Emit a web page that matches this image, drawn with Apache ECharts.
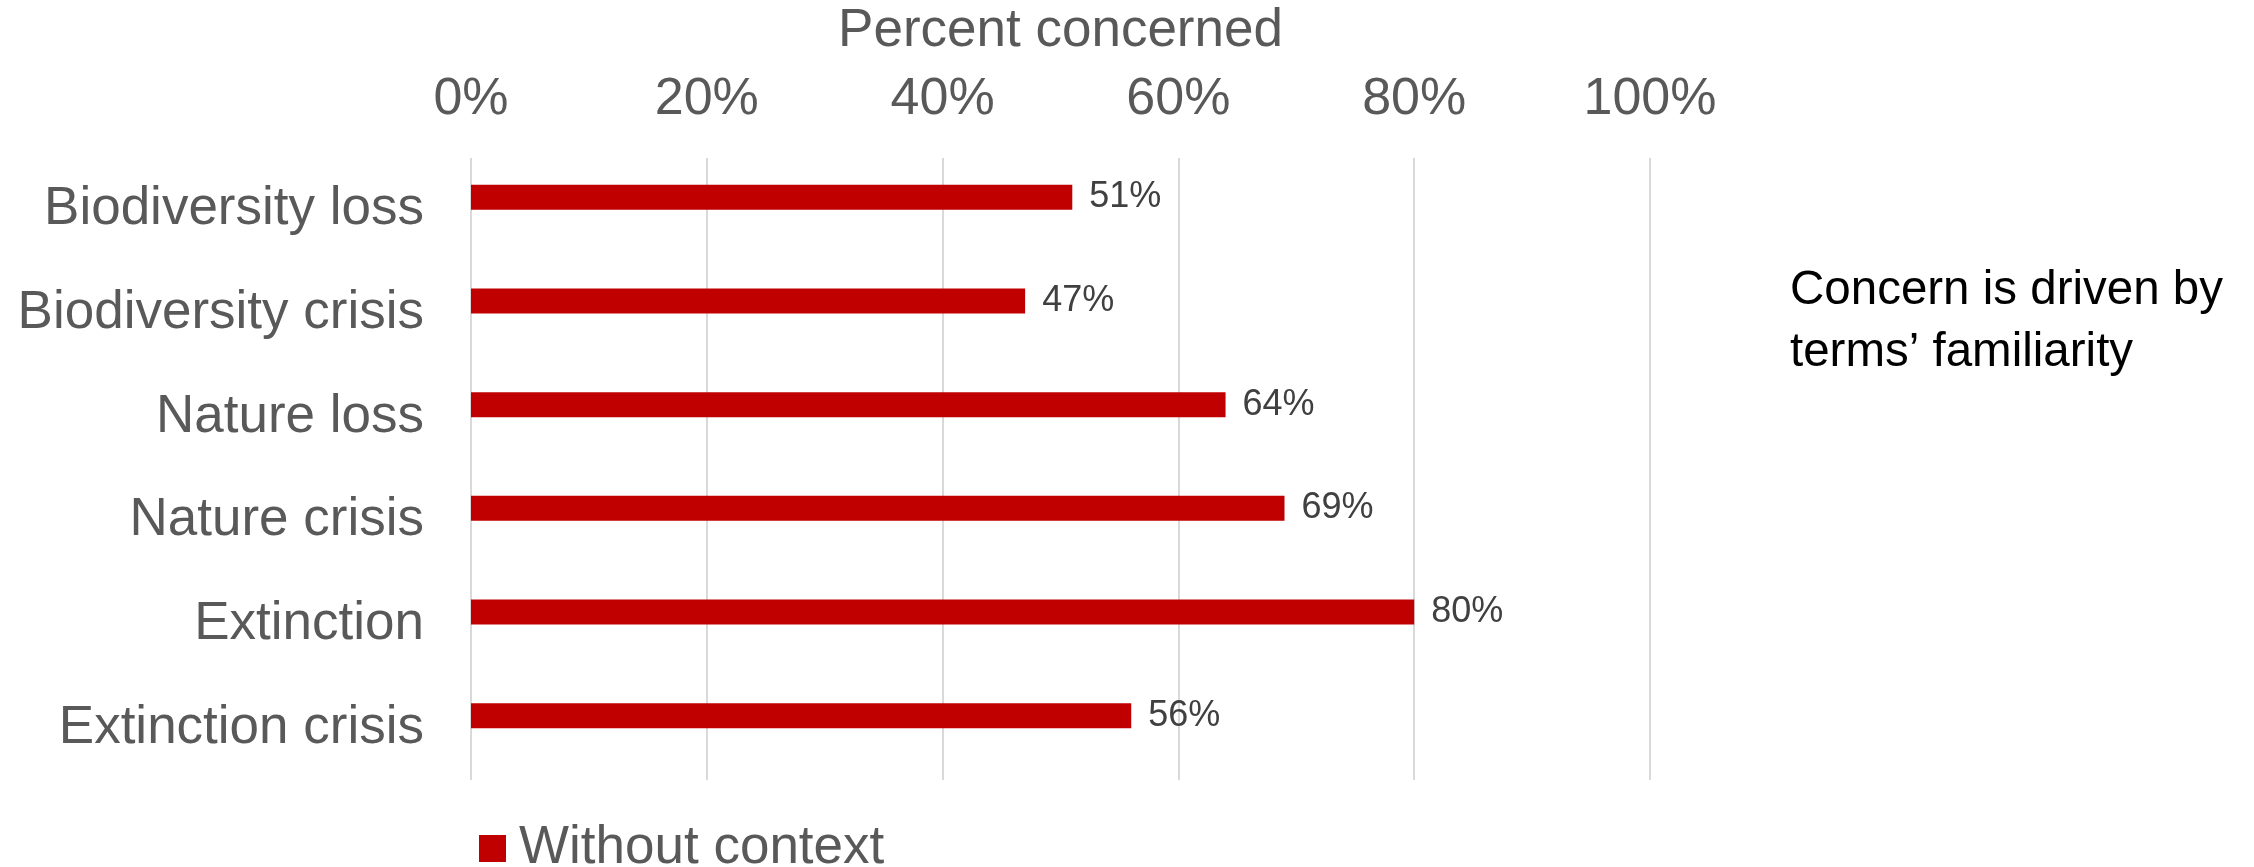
<!DOCTYPE html>
<html>
<head>
<meta charset="utf-8">
<script src="https://cdn.jsdelivr.net/npm/echarts@6/dist/echarts.min.js"></script>
<style>
  html, body { margin: 0; padding: 0; background: #fff; }
  #chart { width: 2254px; height: 867px; }
</style>
</head>
<body>
<div id="chart"></div>
<script>
const categories = ['Biodiversity loss', 'Biodiversity crisis', 'Nature loss', 'Nature crisis', 'Extinction', 'Extinction crisis']
const withoutContext = [51, 47, 64, 69, 80, 56]
// the original chart kept a slot for a second series; its bars are absent
const withContext = []
const xTicks = [0, 20, 40, 60, 80, 100]

const FONT = '"Liberation Sans", Arial, sans-serif'
const RED = '#c00000'

const chart = echarts.init(document.getElementById('chart'), null, { renderer: 'canvas' })

chart.setOption({
    animation: false,
    textStyle: { fontFamily: FONT },
    grid: { left: 471, right: 604, top: 158, bottom: 87, containLabel: false },
    legend: {
        data: ['Without context'],
        left: 474,
        top: 817,
        itemWidth: 27,
        itemHeight: 27,
        icon: 'rect',
        textStyle: { fontFamily: FONT, fontSize: 53, color: '#595959', padding: [0, 0, 0, 8] },
    },
    xAxis: {
        type: 'value',
        position: 'top',
        min: xTicks[0],
        max: xTicks[xTicks.length - 1],
        interval: xTicks[1] - xTicks[0],
        name: 'Percent concerned',
        nameLocation: 'middle',
        nameGap: 100,
        nameTextStyle: { fontFamily: FONT, fontSize: 53, color: '#595959' },
        axisLine: { show: false },
        axisTick: { show: false },
        axisLabel: {
            formatter: (v) => v + '%',
            fontFamily: FONT,
            fontSize: 52,
            color: '#595959',
            margin: 32,
        },
        splitLine: { show: true, lineStyle: { color: '#d9d9d9', width: 2 } },
    },
    yAxis: {
        type: 'category',
        data: categories,
        inverse: true,
        axisLine: { show: false },
        axisTick: { show: false },
        axisLabel: { fontFamily: FONT, fontSize: 53, color: '#595959', margin: 47 },
    },
    graphic: [
        {
            type: 'text',
            left: 1790,
            top: 260,
            style: {
                text: 'Concern is driven by\nterms\u2019 familiarity',
                font: '47.5px ' + FONT,
                lineHeight: 62,
                fill: '#000',
            },
        },
    ],
    series: [
        {
            name: 'Without context',
            type: 'bar',
            data: withoutContext,
            barWidth: 25,
            barGap: '0%',
            itemStyle: { color: RED },
            label: {
                show: true,
                position: 'right',
                distance: 17,
                formatter: '{c}%',
                fontFamily: FONT,
                fontSize: 36,
                color: '#404040',
            },
        },
        {
            name: 'With context',
            type: 'bar',
            data: withContext,
            barWidth: 25,
            barGap: '0%',
            itemStyle: { color: '#7f7f7f' },
        },
    ],
})
</script>
</body>
</html>
